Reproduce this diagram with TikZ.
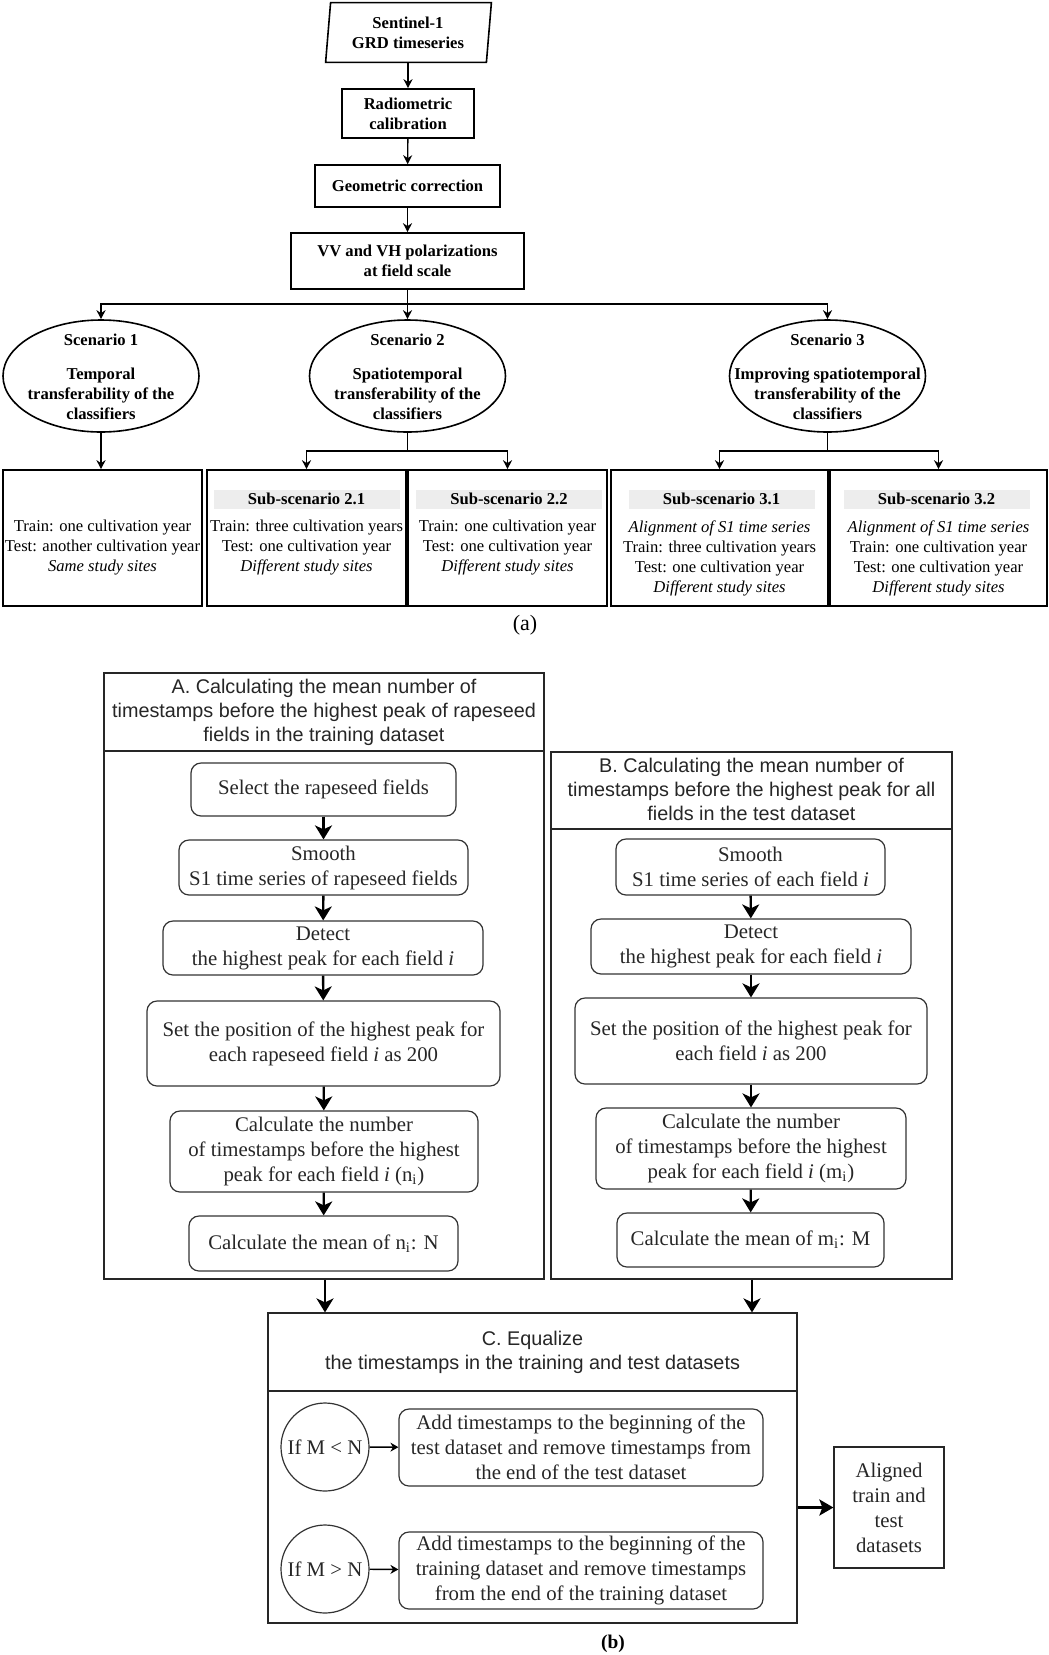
\documentclass[tikz,border=0pt]{standalone}
\usepackage{fontspec}
\setmainfont{Liberation Serif}
\newfontfamily\hsans{Liberation Sans}
\usetikzlibrary{arrows.meta,shapes.geometric}
\newcommand\afontA{\fontsize{8.3}{10}\selectfont\bfseries}
\newcommand\atextA{\fontsize{8.3}{10}\selectfont}
\newcommand\bserA{\fontsize{10.4}{12.5}\selectfont}
\newcommand\bsansA{\hsans\fontsize{9.9}{12}\selectfont}
\begin{document}
\begin{tikzpicture}[x=0.5pt,y=-0.5pt,
  abox/.style={draw, line width=0.8pt, inner sep=0pt, align=center, font=\afontA},
  scen/.style={draw, ellipse, line width=0.8pt, inner sep=0pt, minimum width=98pt, minimum height=56pt},
  sctext/.style={align=center, font=\afontA, inner sep=0pt},
  subbox/.style={draw, line width=0.8pt, inner sep=0pt, minimum height=68pt},
  subhead/.style={fill=black!7, inner sep=0pt, minimum width=93pt, minimum height=9.5pt, font=\afontA},
  subtext/.style={align=center, font=\atextA, inner sep=0pt},
  aarrow/.style={-{Stealth[length=4.5pt,width=4.5pt]}, line width=0.7pt},
  busline/.style={line width=0.9pt},
  rbox/.style={draw=black!80, line width=0.6pt, rounded corners=5pt, align=center, inner sep=0pt, font=\bserA, text=black!85},
  panel/.style={draw=black!85, line width=0.6pt, inner sep=0pt},
  phead/.style={align=center, font=\bsansA, text=black!85, inner sep=0pt},
  barrow/.style={-{Stealth[length=7pt,width=8.5pt,inset=2pt]}, line width=1.2pt},
  tarrow/.style={-{Stealth[length=4pt,width=4.5pt]}, line width=0.7pt},
  carrow/.style={-{Stealth[length=7pt,width=8pt,inset=1.5pt]}, line width=1.8pt},
  circ/.style={draw=black!80, circle, line width=0.6pt, inner sep=0pt, minimum size=44pt, font=\bserA, text=black!85}
]
\path[use as bounding box] (0,0) rectangle (1049,1655);

% ---------------- Part (a) ----------------
\node[draw=none, inner sep=0pt, minimum width=80pt, minimum height=29.5pt, align=center, font=\afontA] (sen) at (408,32.5) {Sentinel-1\\GRD timeseries};
\draw[line width=0.8pt] ([xshift=1.5pt]sen.north west) -- ([xshift=1.5pt]sen.north east) -- ([xshift=-1pt]sen.south east) -- ([xshift=-1pt]sen.south west) -- cycle;
\node[abox, minimum width=66pt, minimum height=24.5pt] (rad) at (408,113.5) {Radiometric\\calibration};
\node[abox, minimum width=92.5pt, minimum height=21pt] (geo) at (407.5,186) {Geometric correction};
\node[abox, minimum width=116.5pt, minimum height=28pt] (vv) at (407.5,261) {VV and VH polarizations\\at field scale};

\draw[aarrow] (sen) -- (rad);
\draw[aarrow] (rad) -- (geo);
\draw[aarrow] (geo) -- (vv);

\node[scen] (sc1) at (101,376) {};
\node[scen] (sc2) at (407.5,376) {};
\node[scen] (sc3) at (827.5,376) {};
\node[sctext] (sc1t) at (101,377) {Scenario 1\\[7pt]Temporal\\transferability of the\\classifiers};
\node[sctext] (sc2t) at (407.5,377) {Scenario 2\\[7pt]Spatiotemporal\\transferability of the\\classifiers};
\node[sctext] (sc3t) at (827.5,377) {Scenario 3\\[7pt]Improving spatiotemporal\\transferability of the\\classifiers};

\coordinate (bus) at (407.5,304);
\draw[busline] (vv.south) -- (bus);
\draw[aarrow] (bus) -| (sc1.north);
\draw[aarrow] (bus) -| (sc3.north);
\draw[aarrow] (bus) -- (sc2.north);

\node[subbox, minimum width=99.5pt] (bx1) at (102.5,538) {};
\node[subbox, minimum width=99.5pt] (b21) at (306.5,538) {};
\node[subbox, minimum width=99.5pt] (b22) at (507.5,538) {};
\node[subbox, minimum width=108.5pt] (b31) at (719.5,538) {};
\node[subbox, minimum width=108.5pt] (b32) at (938.5,538) {};

\coordinate (bus2) at (407.5,451);
\coordinate (bus3) at (827.5,451);
\draw[aarrow] (sc1.south) -- (sc1.south |- bx1.north);
\draw[busline] (sc2.south) -- (bus2);
\draw[aarrow] (bus2) -| (b21.north);
\draw[aarrow] (bus2) -| (b22.north);
\draw[busline] (sc3.south) -- (bus3);
\draw[aarrow] (bus3) -| (b31.north);
\draw[aarrow] (bus3) -| (b32.north);

\node[subhead] (h21) at (306.5,499) {Sub-scenario 2.1};
\node[subhead] (h22) at (509,499) {Sub-scenario 2.2};
\node[subhead] (h31) at (721.5,499) {Sub-scenario 3.1};
\node[subhead] (h32) at (936.5,499) {Sub-scenario 3.2};

\node[subtext] (t1) at (102.5,548) {Train: one cultivation year\\Test: another cultivation year\\\textit{Same study sites}};
\node[subtext] (t21) at (306.5,548) {Train: three cultivation years\\Test: one cultivation year\\\textit{Different study sites}};
\node[subtext] (t22) at (507.5,548) {Train: one cultivation year\\Test: one cultivation year\\\textit{Different study sites}};
\node[subtext] (t31) at (719.5,558) {\textit{Alignment of S1 time series}\\Train: three cultivation years\\Test: one cultivation year\\\textit{Different study sites}};
\node[subtext] (t32) at (938.5,558) {\textit{Alignment of S1 time series}\\Train: one cultivation year\\Test: one cultivation year\\\textit{Different study sites}};

\node[font=\fontsize{11}{13}\selectfont, inner sep=0pt] (la) at (525,625) {(a)};

% ---------------- Part (b) ----------------
\node[panel, minimum width=220pt, minimum height=303pt] (A) at (324,976) {};
\draw[draw=black!85, line width=0.6pt] (104,751) -- (544,751);
\node[phead] (Ah) at (324,712) {A. Calculating the mean number of\\timestamps before the highest peak of rapeseed\\fields in the training dataset};

\node[panel, minimum width=200.5pt, minimum height=263.5pt] (B) at (751.5,1015.5) {};
\draw[draw=black!85, line width=0.6pt] (551,829) -- (952,829);
\node[phead] (Bh) at (751.5,789) {B. Calculating the mean number of\\timestamps before the highest peak for all\\fields in the test dataset};

\node[rbox, minimum width=132.5pt, minimum height=26.5pt] (sel) at (323.5,789.5) {Select the rapeseed fields};
\node[rbox, minimum width=144.5pt, minimum height=27.5pt] (smoA) at (323.5,867.5) {Smooth\\S1 time series of rapeseed fields};
\node[rbox, minimum width=160pt, minimum height=27pt] (detA) at (323,948) {Detect\\the highest peak for each field \textit{i}};
\node[rbox, minimum width=176.5pt, minimum height=42.5pt] (setA) at (323.5,1043.5) {Set the position of the highest peak for\\each rapeseed field \textit{i} as 200};
\node[rbox, minimum width=154pt, minimum height=40.5pt] (calcA) at (324,1151.5) {Calculate the number\\of timestamps before the highest\\peak for each field \textit{i} (n\textsubscript{i})};
\node[rbox, minimum width=134.5pt, minimum height=27.5pt] (meanA) at (323.5,1243.5) {Calculate the mean of n\textsubscript{i}: N};

\node[rbox, minimum width=134.5pt, minimum height=28pt] (smoB) at (750.5,867) {Smooth\\S1 time series of each field \textit{i}};
\node[rbox, minimum width=160pt, minimum height=27.5pt] (detB) at (751,946.5) {Detect\\the highest peak for each field \textit{i}};
\node[rbox, minimum width=176pt, minimum height=43pt] (setB) at (751,1041) {Set the position of the highest peak for\\each field \textit{i} as 200};
\node[rbox, minimum width=155pt, minimum height=40.5pt] (calcB) at (751,1148.5) {Calculate the number\\of timestamps before the highest\\peak for each field \textit{i} (m\textsubscript{i})};
\node[rbox, minimum width=133.5pt, minimum height=27pt] (meanB) at (750.5,1240) {Calculate the mean of m\textsubscript{i}: M};

\draw[barrow] (sel) -- (smoA);
\draw[barrow] (smoA) -- (detA);
\draw[barrow] (detA) -- (setA);
\draw[barrow] (setA) -- (calcA);
\draw[barrow] (calcA) -- (meanA);
\draw[barrow] (smoB) -- (detB);
\draw[barrow] (detB) -- (setB);
\draw[barrow] (setB) -- (calcB);
\draw[barrow] (calcB) -- (meanB);

\node[panel, minimum width=264.5pt, minimum height=155pt] (C) at (532.5,1468) {};
\draw[draw=black!85, line width=0.6pt] (268,1391) -- (797,1391);
\node[phead] (Ch) at (532.5,1352) {C. Equalize\\the timestamps in the training and test datasets};

\draw[barrow] (A.south -| 325,0) -- (C.north -| 325,0);
\draw[barrow] (B.south -| 752,0) -- (C.north -| 752,0);

\node[circ] (c1) at (325,1447) {If M < N};
\node[circ] (c2) at (325,1569) {If M > N};
\node[rbox, minimum width=182pt, minimum height=38.5pt] (addT) at (581,1447.5) {Add timestamps to the beginning of the\\test dataset and remove timestamps from\\the end of the test dataset};
\node[rbox, minimum width=182pt, minimum height=38.5pt] (addR) at (581,1570.5) {Add timestamps to the beginning of the\\training dataset and remove timestamps\\from the end of the training dataset};
\draw[tarrow] (c1) -- (addT);
\draw[tarrow] (c2) -- (addR);

\node[draw=black!85, line width=0.6pt, inner sep=0pt, minimum width=55pt, minimum height=60.5pt, align=center, font=\bserA, text=black!85] (al) at (889,1507.5) {Aligned\\train and\\test\\datasets};
\draw[carrow] (C.east |- al.west) -- (al.west);

\node[font=\fontsize{9.7}{11}\selectfont\bfseries, inner sep=0pt] (lb) at (613,1644) {(b)};
\end{tikzpicture}
\end{document}
